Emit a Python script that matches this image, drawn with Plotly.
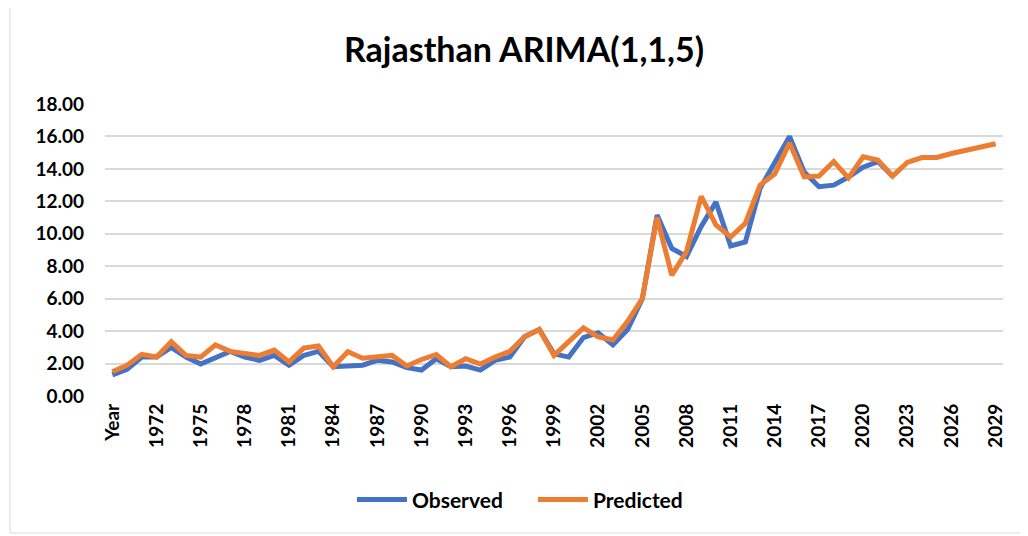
import plotly.graph_objects as go

categories = ["Year"] + [str(y) for y in range(1970, 2030)]

observed = [1.3, 1.65, 2.4, 2.4, 3.0, 2.4, 1.97, 2.35, 2.75, 2.4,
            2.2, 2.5, 1.9, 2.5, 2.75, 1.8, 1.85, 1.9, 2.2, 2.1,
            1.75, 1.6, 2.3, 1.8, 1.85, 1.6, 2.2, 2.4, 3.65, 4.1,
            2.6, 2.4, 3.6, 3.9, 3.15, 4.1, 6.0, 11.15, 9.1, 8.6,
            10.45, 11.95, 9.25, 9.5, 12.8, 14.45, 16.0, 13.8, 12.9, 13.0,
            13.5, 14.1, 14.45, 13.55]

predicted = [1.5, 1.9, 2.57, 2.4, 3.35, 2.5, 2.4, 3.15, 2.75, 2.6,
             2.5, 2.83, 2.1, 2.95, 3.08, 1.8, 2.73, 2.33, 2.4, 2.5,
             1.85, 2.25, 2.55, 1.8, 2.3, 1.97, 2.4, 2.75, 3.65, 4.1,
             2.5, 3.35, 4.2, 3.65, 3.45, 4.6, 6.0, 11.0, 7.45, 8.9,
             12.3, 10.55, 9.8, 10.65, 13.0, 13.7, 15.6, 13.5, 13.56, 14.45,
             13.45, 14.75, 14.55, 13.55, 14.4, 14.7, 14.7, 14.95, 15.15, 15.35,
             15.55]

tick_labels = categories[::3]
y_ticks = [0, 2, 4, 6, 8, 10, 12, 14, 16, 18]

fig = go.Figure()
fig.add_trace(go.Scatter(x=categories[:len(observed)], y=observed, mode="lines",
                         name="Observed", line=dict(color="#4472C4", width=5)))
fig.add_trace(go.Scatter(x=categories[:len(predicted)], y=predicted, mode="lines",
                         name="Predicted", line=dict(color="#ED7D31", width=5)))

font_family = "Lato, Liberation Sans, sans-serif"

fig.update_layout(
    width=1028, height=536,
    margin=dict(l=97, r=33, t=96, b=148),
    paper_bgcolor="white", plot_bgcolor="white",
    title=dict(text="Rajasthan ARIMA(1,1,5)", x=0.502, xanchor="center",
               y=1 - 42 / 536, yref="container", yanchor="middle",
               font=dict(family=font_family, size=34, color="black", weight="bold")),
    showlegend=True,
    legend=dict(orientation="h", x=0.275, xanchor="left", y=-0.356, yanchor="middle",
                font=dict(family=font_family, size=21, color="black", weight="bold"),
                entrywidth=116, entrywidthmode="pixels", itemwidth=50),
    font=dict(family=font_family, color="black"),
)

fig.update_xaxes(
    type="category", categoryorder="array", categoryarray=categories,
    range=[-0.5, len(categories) - 0.5],
    tickmode="array", tickvals=tick_labels, ticktext=tick_labels,
    tickangle=-90, tickfont=dict(family=font_family, size=19, color="black", weight="bold"),
    showgrid=False, showline=False, zeroline=False, ticks="", ticklabelstandoff=3,
)
fig.update_yaxes(
    range=[0, 18], tickmode="array", tickvals=y_ticks,
    ticktext=["%.2f" % v for v in y_ticks],
    tickfont=dict(family=font_family, size=19, color="black", weight="bold"),
    showgrid=True, gridcolor="#D9D9D9", gridwidth=1.5,
    zeroline=False, showline=False, ticks="", ticklabelstandoff=20,
)

fig.add_shape(type="rect", xref="paper", yref="paper",
              x0=-95 / 898, x1=1.06, y0=-137 / 292, y1=1.4,
              line=dict(color="#D9D9D9", width=1), fillcolor="rgba(0,0,0,0)",
              layer="below")

fig.write_html("out.html")
